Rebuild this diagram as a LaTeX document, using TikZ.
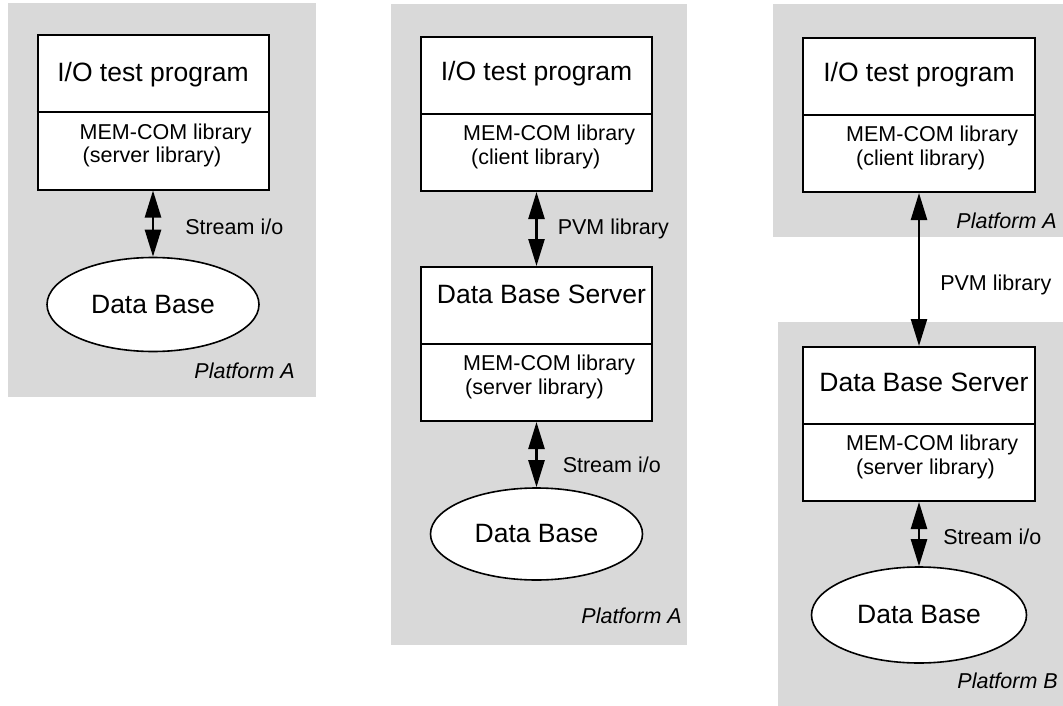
\documentclass[tikz,border=0pt]{standalone}
\usepackage{fontspec}
\setmainfont{Liberation Sans}
\usetikzlibrary{positioning, shapes.geometric, arrows.meta}

\newcommand{\dbfont}{\fontsize{26.5}{31}\selectfont}
\newcommand{\libfont}{\fontsize{21.5}{23.5}\selectfont}

\tikzset{
platform/.style = {fill=gray!30, draw=none},
unit/.style = {%
    draw, fill=white, line width=2pt,
    minimum width=231pt, minimum height=154pt, inner sep=0pt},
store/.style = {%
    ellipse, draw, fill=white, line width=1.6pt,
    minimum width=212pt, minimum height=94pt, inner sep=0pt,
    font=\dbfont},
bigtext/.style = {font=\dbfont, anchor=base, inner sep=0pt},
libtext/.style = {font=\libfont, align=left, anchor=north west, inner sep=0pt},
linktext/.style = {font=\libfont, anchor=west, inner sep=0pt},
tag/.style = {font=\libfont\itshape, anchor=base east, inner sep=0pt},
link/.style = {%
    {Triangle[length=27pt,width=16pt]}-{Triangle[length=27pt,width=16pt]},
    line width=2.5pt}
}

\begin{document}
\begin{tikzpicture}[x=1pt, y=-1pt]
        \useasboundingbox (0,0) rectangle (1063,706);

        % Platform backgrounds
        \fill[platform] (8,3)    rectangle (316,397);
        \fill[platform] (391,4)  rectangle (687,645);
        \fill[platform] (773,4)  rectangle (1063,237);
        \fill[platform] (778,322) rectangle (1063,706);

        % Case 1: program and data base on one platform
        \node[unit] (prog1) at (153,112.5) {};
        \draw[line width=2pt] (prog1.west) -- (prog1.east);
        \path (prog1.north) ++(0,47)  node[bigtext] (prog1txt) {I/O test program};
        \path (prog1.west)  ++(43,11) node[libtext] (prog1lib) {MEM-COM library\\\hspace*{3pt}(server library)};
        \node[store] (db1) at (153,304.5) {Data Base};
        \draw[link] (prog1) -- (db1)
            node[pos=0.55, linktext, xshift=31pt] (io1) {Stream i/o};
        \node[tag] (plat1) at (295,378) {Platform A};

        % Case 2: client and server on one platform
        \node[unit] (prog2) at (536.5,114) {};
        \draw[line width=2pt] (prog2.west) -- (prog2.east);
        \path (prog2.north) ++(0,45)  node[bigtext] (prog2txt) {I/O test program};
        \path (prog2.west)  ++(43,11) node[libtext] (prog2lib) {MEM-COM library\\\hspace*{8pt}(client library)};

        \node[unit] (srv2) at (536.5,344) {};
        \draw[line width=2pt] (srv2.west) -- (srv2.east);
        \path (srv2.north) ++(5,37)  node[bigtext] (srv2txt) {Data Base Server};
        \path (srv2.west)  ++(43,11) node[libtext] (srv2lib) {MEM-COM library\\\hspace*{2pt}(server library)};

        \node[store, minimum height=92pt] (db2) at (536.5,534) {Data Base};
        \draw[link] (prog2) -- (srv2)
            node[pos=0.5, linktext, xshift=20pt] (pvm2) {PVM library};
        \draw[link] (srv2) -- (db2)
            node[pos=0.66, linktext, xshift=25pt] (io2) {Stream i/o};
        \node[tag] (plat2) at (682,623) {Platform A};

        % Case 3: client and server on two platforms
        \node[unit, minimum width=232pt] (prog3) at (919,115) {};
        \draw[line width=2pt] (prog3.west) -- (prog3.east);
        \path (prog3.north) ++(0,45)  node[bigtext] (prog3txt) {I/O test program};
        \path (prog3.west)  ++(44,11) node[libtext] (prog3lib) {MEM-COM library\\\hspace*{10pt}(client library)};
        \node[tag] (plat3a) at (1057,228) {Platform A};

        \node[unit, minimum width=232pt] (srv3) at (919,424) {};
        \draw[line width=2pt] (srv3.west) -- (srv3.east);
        \path (srv3.north) ++(5,45)  node[bigtext] (srv3txt) {Data Base Server};
        \path (srv3.west)  ++(44,11) node[libtext] (srv3lib) {MEM-COM library\\\hspace*{10pt}(server library)};

        \node[store, minimum width=215pt, minimum height=96pt] (db3) at (919,615) {Data Base};
        \draw[link] (prog3) -- (srv3)
            node[pos=0.6, linktext, xshift=20pt] (pvm3) {PVM library};
        \draw[link] (srv3) -- (db3)
            node[pos=0.55, linktext, xshift=23pt] (io3) {Stream i/o};
        \node[tag] (plat3b) at (1058,688) {Platform B};

    \end{tikzpicture}
\end{document}
